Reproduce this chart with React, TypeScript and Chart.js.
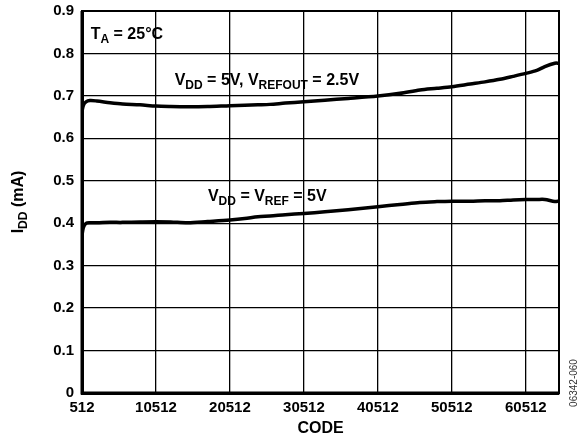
import React, { useEffect, useRef } from "react";
import { Chart, registerables } from "chart.js";

Chart.register(...registerables);

const codes = [512, 700, 1053, 1593, 2500, 4296, 6000, 8350, 10512, 12500, 14836, 17500, 20512, 22500, 24296, 25918, 28000, 30512, 33350, 36500, 40512, 43500, 46188, 48500, 50512, 53000, 55000, 57000, 58800, 60512, 62000, 63080, 64431, 65000];
const upperValues = [0.663, 0.678, 0.686, 0.689, 0.688, 0.684, 0.681, 0.679, 0.676, 0.675, 0.6745, 0.675, 0.677, 0.678, 0.679, 0.680, 0.683, 0.686, 0.690, 0.694, 0.6997, 0.706, 0.714, 0.718, 0.7217, 0.728, 0.733, 0.739, 0.746, 0.753, 0.760, 0.769, 0.777, 0.777];
const lowerValues = [0.372, 0.390, 0.3998, 0.401, 0.401, 0.402, 0.402, 0.403, 0.4036, 0.403, 0.401, 0.404, 0.4076, 0.411, 0.4154, 0.417, 0.420, 0.423, 0.427, 0.432, 0.439, 0.444, 0.449, 0.451, 0.452, 0.452, 0.453, 0.453, 0.455, 0.456, 0.456, 0.456, 0.451, 0.452];
const xTicks = [512, 10512, 20512, 30512, 40512, 50512, 60512];
const xMin = 512;
const xMax = 65000;
const yMin = 0;
const yMax = 0.9;

type Seg = { t: string; sub?: boolean };
const annotations: { code: number; value: number; segs: Seg[] }[] = [
  { code: 1688, value: 0.834, segs: [{ t: "T" }, { t: "A", sub: true }, { t: " = 25°C" }] },
  { code: 13040, value: 0.7257, segs: [{ t: "V" }, { t: "DD", sub: true }, { t: " = 5V, V" }, { t: "REFOUT", sub: true }, { t: " = 2.5V" }] },
  { code: 17540, value: 0.453, segs: [{ t: "V" }, { t: "DD", sub: true }, { t: " = V" }, { t: "REF", sub: true }, { t: " = 5V" }] },
];

const FAMILY = "'Liberation Sans', Arial, sans-serif";
const MAIN = `bold 16px ${FAMILY}`;
const SUB = `bold 12px ${FAMILY}`;

function drawSegs(ctx: CanvasRenderingContext2D, segs: Seg[], x: number, y: number) {
  let cx = x;
  ctx.textBaseline = "alphabetic";
  ctx.textAlign = "left";
  for (const s of segs) {
    ctx.font = s.sub ? SUB : MAIN;
    ctx.fillText(s.t, cx, s.sub ? y + 4 : y);
    cx += ctx.measureText(s.t).width;
  }
  return cx - x;
}

function measureSegs(ctx: CanvasRenderingContext2D, segs: Seg[]) {
  let w = 0;
  for (const s of segs) {
    ctx.font = s.sub ? SUB : MAIN;
    w += ctx.measureText(s.t).width;
  }
  return w;
}

const overlayPlugin = {
  id: "overlay",
  afterDraw(chart: any) {
    const ctx: CanvasRenderingContext2D = chart.ctx;
    const { left, right, top, bottom } = chart.chartArea;
    const xs = chart.scales.x;
    const ys = chart.scales.y;
    ctx.save();
    // frame
    ctx.strokeStyle = "#000";
    ctx.lineWidth = 2;
    ctx.strokeRect(left, top, right - left, bottom - top);
    ctx.lineWidth = 3;
    ctx.beginPath();
    ctx.moveTo(left, top);
    ctx.lineTo(left, bottom);
    ctx.lineTo(right, bottom);
    ctx.stroke();

    ctx.fillStyle = "#000";
    for (const a of annotations) {
      drawSegs(ctx, a.segs, xs.getPixelForValue(a.code), ys.getPixelForValue(a.value));
    }

    // x title
    ctx.font = MAIN;
    ctx.textAlign = "center";
    ctx.textBaseline = "alphabetic";
    ctx.fillText("CODE", (left + right) / 2, 433);

    // y title
    const ySegs: Seg[] = [{ t: "I" }, { t: "DD", sub: true }, { t: " (mA)" }];
    const w = measureSegs(ctx, ySegs);
    ctx.save();
    ctx.translate(23, (top + bottom) / 2);
    ctx.rotate(-Math.PI / 2);
    drawSegs(ctx, ySegs, -w / 2, 0);
    ctx.restore();

    // figure code
    ctx.save();
    ctx.font = `10px ${FAMILY}`;
    ctx.fillStyle = "#333";
    ctx.translate(577, 383);
    ctx.rotate(-Math.PI / 2);
    ctx.textAlign = "center";
    ctx.textBaseline = "alphabetic";
    ctx.fillText("06342-060", 0, 0);
    ctx.restore();

    ctx.restore();
  },
};

export default function App() {
  const ref = useRef<HTMLCanvasElement | null>(null);
  useEffect(() => {
    if (!ref.current) return;
    const tickFont = { family: FAMILY, size: 15, weight: "bold" as const };
    const chart = new Chart(ref.current, {
      type: "line",
      data: {
        datasets: [
          {
            label: "VDD = 5V, VREFOUT = 2.5V",
            data: codes.map((c, i) => ({ x: c, y: upperValues[i] })),
            borderColor: "#000",
            borderWidth: 3.5,
            pointRadius: 0,
            tension: 0.3,
            fill: false,
          },
          {
            label: "VDD = VREF = 5V",
            data: codes.map((c, i) => ({ x: c, y: lowerValues[i] })),
            borderColor: "#000",
            borderWidth: 3.5,
            pointRadius: 0,
            tension: 0.3,
            fill: false,
          },
        ],
      },
      options: {
        animation: false,
        responsive: false,
        devicePixelRatio: 1,
        layout: { padding: { left: 0, top: 11, right: 26, bottom: 0 } },
        plugins: { legend: { display: false }, tooltip: { enabled: false } },
        scales: {
          x: {
            type: "linear",
            min: xMin,
            max: xMax,
            afterBuildTicks: (s: any) => {
              s.ticks = xTicks.map((v) => ({ value: v }));
            },
            afterFit: (s: any) => {
              s.height = 47;
              s.paddingLeft = 0;
              s.paddingRight = 0;
            },
            grid: { color: "#000", lineWidth: 1.3, drawTicks: false },
            border: { display: true, color: "#000", width: 3 },
            ticks: {
              color: "#000",
              font: tickFont,
              padding: 6,
              maxRotation: 0,
              autoSkip: false,
              callback: (v: any) => String(v),
            },
          },
          y: {
            min: yMin,
            max: yMax,
            afterFit: (s: any) => {
              s.width = 82;
              s.paddingTop = 0;
              s.paddingBottom = 0;
            },
            grid: { color: "#000", lineWidth: 1.3, drawTicks: false },
            border: { display: true, color: "#000", width: 3 },
            ticks: {
              color: "#000",
              font: tickFont,
              padding: 8,
              stepSize: 0.1,
              callback: (v: any) => (Math.abs(v) < 1e-9 ? "0" : Number(v).toFixed(1)),
            },
          },
        },
      },
      plugins: [overlayPlugin],
    });
    return () => chart.destroy();
  }, []);
  return (
    <div style={{ position: "fixed", left: 0, top: 0, width: 585, height: 440, background: "#fff" }}>
      <canvas ref={ref} width={585} height={440} />
    </div>
  );
}
